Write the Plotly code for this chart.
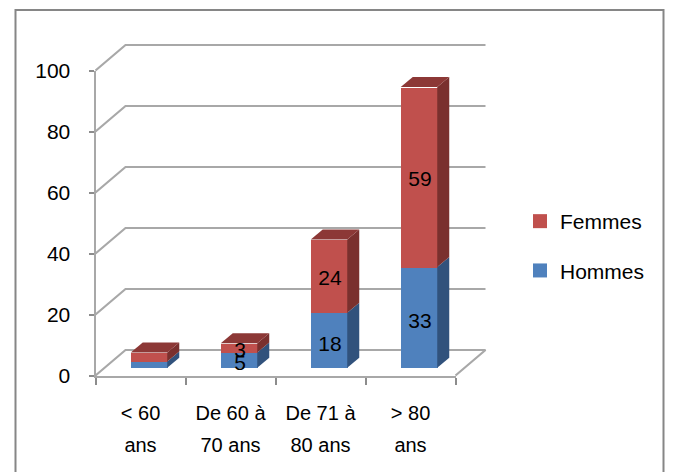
import plotly.graph_objects as go

categories_line1 = ["< 60", "De 60 à", "De 71 à", "> 80"]
categories_line2 = ["ans", "70 ans", "80 ans", "ans"]
hommes = [2, 5, 18, 33]
femmes = [3, 3, 24, 59]
hommes_labels = ["", "5", "18", "33"]
femmes_labels = ["", "3", "24", "59"]
y_ticks = [0, 20, 40, 60, 80, 100]

PAGE = 8  # the page's body margin
W, H = 673 - PAGE, 472 - PAGE
PX_L, PX_R, PX_B, PX_T = 95.5 - PAGE, 455.5 - PAGE, 375.5 - PAGE, 70.5 - PAGE
px_per_cat = (PX_R - PX_L) / 4
px_per_unit = (PX_B - PX_T) / 100


def cx(px):
    return px / px_per_cat


def cy(px):
    return px / px_per_unit


wall_dx, wall_dy = cx(30), cy(25.5)
bar_shift_x, bar_base = cx(8.5), cy(7.8)
bar_w = cx(36.5)
side_dx, side_dy = cx(12), cy(10)
FONT = "Liberation Sans"
FS = 21
GRID = "#a8a8a8"

BLUE, BLUE_SIDE = "#4f81bd", "#31527c"
RED, RED_SIDE, RED_TOP = "#c0504d", "#7a302e", "#8c3836"

fig = go.Figure()

# walls: a hidden full-page subplot on the same scale, beneath the bars
for v in y_ticks:
    xs = [-0.5, -0.5 + wall_dx, 3.5 + wall_dx]
    ys = [v, v + wall_dy, v + wall_dy]
    if v == 0:
        xs += [3.5]
        ys += [0]
    fig.add_trace(go.Scatter(x=xs, y=ys, mode="lines", line=dict(color=GRID, width=2.2),
                             showlegend=False, hoverinfo="skip"))

centers = [i + bar_shift_x for i in range(4)]
tot_h = [bar_base + h for h in hommes]
tot_f = [a + f for a, f in zip(tot_h, femmes)]

fig.add_trace(go.Bar(x=centers, y=hommes, base=[bar_base] * 4, width=bar_w, marker_color=BLUE,
                     marker_line_width=0, xaxis="x2", yaxis="y2", showlegend=False))
fig.add_trace(go.Bar(x=centers, y=femmes, base=tot_h, width=bar_w, marker_color=RED,
                     marker_line_width=0, xaxis="x2", yaxis="y2", showlegend=False))


def poly(xs, ys, color):
    fig.add_trace(go.Scatter(x=xs, y=ys, mode="none", fill="toself", fillcolor=color,
                             xaxis="x2", yaxis="y2", showlegend=False, hoverinfo="skip"))


for i, c in enumerate(centers):
    r, l = c + bar_w / 2, c - bar_w / 2
    poly([r, r + side_dx, r + side_dx, r],
         [bar_base, bar_base + side_dy, tot_h[i] + side_dy, tot_h[i]], BLUE_SIDE)
    poly([r, r + side_dx, r + side_dx, r],
         [tot_h[i], tot_h[i] + side_dy, tot_f[i] + side_dy, tot_f[i]], RED_SIDE)
    poly([l, l + side_dx, r + side_dx, r],
         [tot_f[i], tot_f[i] + side_dy, tot_f[i] + side_dy, tot_f[i]], RED_TOP)

label_x, label_y, label_t = [], [], []
for i, c in enumerate(centers):
    if hommes_labels[i]:
        label_x.append(c + cx(1))
        label_y.append(bar_base + hommes[i] / 2 - cy(5))
        label_t.append(hommes_labels[i])
    if femmes_labels[i]:
        label_x.append(c + cx(1))
        label_y.append(tot_h[i] + femmes[i] / 2 - cy(4))
        label_t.append(femmes_labels[i])
fig.add_trace(go.Scatter(x=label_x, y=label_y, text=label_t, mode="text", xaxis="x3", yaxis="y2",
                         textfont=dict(family=FONT, size=FS, color="#000000"),
                         cliponaxis=False, showlegend=False, hoverinfo="skip"))

# legend entries
for name, color in (("Femmes", RED), ("Hommes", BLUE)):
    fig.add_trace(go.Scatter(x=[None], y=[None], mode="markers", name=name, legendgroup=name,
                             xaxis="x2", yaxis="y2",
                             marker=dict(symbol="square", size=14, color=color)))

domain_x = [PX_L / W, PX_R / W]
domain_y = [1 - PX_B / H, 1 - PX_T / H]
wall_xrange = [-0.5 - cx(PX_L), 3.5 + cx(W - PX_R)]
wall_yrange = [-cy(H - PX_B), 100 + cy(PX_T)]

BORDER_R = 663.5

fig.update_layout(
    width=W, height=H, autosize=False,
    margin=dict(l=0, r=0, t=0, b=0, autoexpand=False),
    paper_bgcolor="white", plot_bgcolor="rgba(0,0,0,0)",
    barmode="overlay", bargap=0,
    font=dict(family=FONT, size=FS, color="#000000"),
    xaxis=dict(domain=[0, 1], range=wall_xrange, visible=False),
    yaxis=dict(domain=[0, 1], range=wall_yrange, visible=False),
    xaxis2=dict(domain=domain_x, range=[-0.5, 3.5], anchor="y2", tickmode="array",
                tickvals=list(range(4)), ticktext=categories_line1, ticks="", showgrid=False,
                zeroline=False, showline=True, linecolor=GRID, linewidth=2, ticklabelstandoff=18,
                tickfont=dict(family=FONT, size=20),
                minor=dict(tickmode="array", tickvals=[-0.5, 0.5, 1.5, 2.5, 3.5], ticks="outside",
                           ticklen=7, tickcolor="#8c8c8c", tickwidth=1.5, showgrid=False)),
    xaxis3=dict(overlaying="x2", domain=domain_x, range=[-0.5, 3.5], side="bottom", anchor="y2",
                tickmode="array", tickvals=list(range(4)), ticktext=categories_line2, ticks="",
                showgrid=False, zeroline=False, showline=False, ticklabelstandoff=55,
                tickfont=dict(family=FONT, size=20)),
    yaxis2=dict(domain=domain_y, range=[0, 100], anchor="x2", tickmode="array",
                tickvals=y_ticks, ticks="outside", ticklen=5, tickcolor="#8c8c8c", tickwidth=1.5,
                showgrid=False, zeroline=False, showline=True, linecolor=GRID, linewidth=2,
                ticklabelstandoff=14, tickfont=dict(family=FONT, size=21)),
    legend=dict(x=(520 - PAGE) / W, y=1 - (201 - PAGE) / H, xanchor="left", yanchor="top",
                bgcolor="rgba(0,0,0,0)", font=dict(family=FONT, size=21),
                tracegroupgap=19, traceorder="grouped", itemwidth=30),
    shapes=[dict(type="path", xref="paper", yref="paper", layer="above",
                 path=f"M {(15.5 - PAGE) / W} 0 L {(15.5 - PAGE) / W} {1 - (10 - PAGE) / H} "
                      f"L {(BORDER_R - PAGE) / W} {1 - (10 - PAGE) / H} L {(BORDER_R - PAGE) / W} 0",
                 line=dict(color="#868686", width=2))],
)

fig.write_html("out.html", default_width=f"{W}px", default_height=f"{H}px")
